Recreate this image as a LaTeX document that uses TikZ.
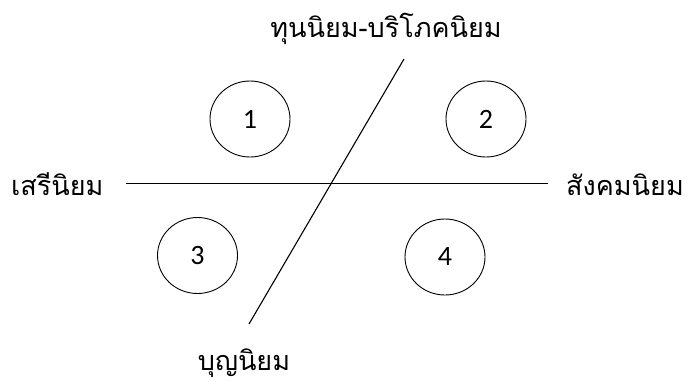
\documentclass[tikz,border=0pt]{standalone}
\usepackage{fontspec}
\usetikzlibrary{shapes.geometric}
\newfontfamily\thaifont[Script=Thai]{Loma}
\newfontfamily\numfont{Carlito}
\begin{document}
\begin{tikzpicture}[x=1pt,y=-1pt,
  num/.style={draw,ellipse,line width=0.9pt,minimum width=80pt,minimum height=76pt,inner sep=0pt,font=\numfont\fontsize{28}{32}\selectfont},
  lbl/.style={inner sep=0pt,font=\thaifont\fontsize{27}{30}\selectfont},
  ln/.style={line width=1.1pt}]
\useasboundingbox (0,0) rectangle (688,381);
\coordinate (hl) at (126,183.5);
\coordinate (hr) at (548,183.5);
\coordinate (dt) at (404,59);
\coordinate (db) at (249,324);
\draw[ln] (hl) -- (hr);
\draw[ln] (dt) -- (db);
\node[num] (c1) at (250,119) {1};
\node[num] (c2) at (486,119) {2};
\node[num] (c3) at (197.5,255.5) {3};
\node[num] (c4) at (445,257) {4};
\node[lbl,anchor=base] (top) at (386,37) {ทุนนิยม-บริโภคนิยม};
\node[lbl,anchor=base west] (left) at (11,195) {เสรีนิยม};
\node[lbl,anchor=base east] (right) at (684,195) {สังคมนิยม};
\node[lbl,anchor=base] (bot) at (244,370) {บุญนิยม};
\end{tikzpicture}
\end{document}
